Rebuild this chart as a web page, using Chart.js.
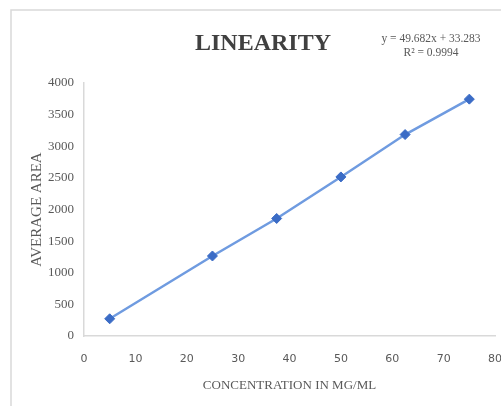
<!DOCTYPE html>
<html>
<head>
<meta charset="utf-8">
<script src="https://cdn.jsdelivr.net/npm/chart.js@4"></script>
<style>
  html, body { margin: 0; padding: 0; background: #fff; }
  #wrap { width: 501px; height: 406px; position: relative; }
</style>
</head>
<body>
<div id="wrap"><canvas id="linChart"></canvas></div>
<script>
// concentration (mg/ml) vs average peak area
const concentrations = [5, 25, 37.5, 50, 62.5, 75];
const averageArea = [272, 1265, 1858, 2515, 3185, 3745];
const xTicks = [0, 10, 20, 30, 40, 50, 60, 70, 80];
const yTicks = [0, 500, 1000, 1500, 2000, 2500, 3000, 3500, 4000];
const titleText = 'LINEARITY';
const equationLines = ['y = 49.682x + 33.283', 'R\u00b2 = 0.9994'];

const axisGrey = '#d9d9d9';
const labelGrey = '#595959';

// frame + title + trendline equation
const decorations = {
    id: 'decorations',
    beforeDraw(chart) {
        const ctx = chart.ctx;
        ctx.save();
        ctx.fillStyle = '#fff';
        ctx.fillRect(0, 0, chart.width, chart.height);
        ctx.strokeStyle = '#d9d9d9';
        ctx.lineWidth = 1.5;
        ctx.beginPath();
        ctx.moveTo(11, chart.height);
        ctx.lineTo(11, 10);
        ctx.lineTo(chart.width, 10);
        ctx.stroke();
        ctx.restore();
    },
    afterDraw(chart) {
        const ctx = chart.ctx;
        ctx.save();
        ctx.textAlign = 'center';
        ctx.textBaseline = 'middle';
        ctx.fillStyle = '#404040';
        ctx.font = 'bold 24px "Liberation Serif"';
        ctx.fillText(titleText, 263, 44);
        ctx.fillStyle = labelGrey;
        ctx.font = '11.5px "Liberation Serif"';
        equationLines.forEach((t, i) => ctx.fillText(t, 431, 39 + i * 14));
        ctx.restore();
    }
};

const ctx = document.getElementById('linChart').getContext('2d');
new Chart(ctx, {
    type: 'scatter',
    data: {
        datasets: [{
            data: concentrations.map((x, i) => ({ x: x, y: averageArea[i] })),
            showLine: true,
            borderColor: '#6f9be0',
            borderWidth: 2.5,
            pointStyle: 'rectRot',
            pointRadius: 5,
            pointBackgroundColor: '#3b6cc6',
            pointBorderColor: '#3b6cc6',
            pointBorderWidth: 1
        }]
    },
    options: {
        responsive: true,
        maintainAspectRatio: false,
        animation: false,
        layout: { padding: { top: 83, right: 4, left: 0, bottom: 0 } },
        plugins: { legend: { display: false }, tooltip: { enabled: false }, title: { display: false } },
        scales: {
            x: {
                type: 'linear',
                min: 0, max: 80,
                afterBuildTicks: (s) => { s.ticks = xTicks.map(v => ({ value: v })); },
                afterFit: (s) => { s.height = 70; s.paddingLeft = 0; s.paddingRight = 0; },
                grid: { display: false, drawTicks: false },
                border: { display: true, color: axisGrey, width: 1.5 },
                ticks: { padding: 17, color: labelGrey, font: { family: 'DejaVu Sans', size: 11 }, maxRotation: 0 },
                title: { display: true, text: 'CONCENTRATION IN MG/ML', color: labelGrey,
                         font: { family: 'Liberation Serif', size: 13 }, padding: { top: 0, bottom: 13 } }
            },
            y: {
                type: 'linear',
                min: 0, max: 4000,
                afterBuildTicks: (s) => { s.ticks = yTicks.map(v => ({ value: v })); },
                afterFit: (s) => { s.width = 84; s.paddingTop = 0; s.paddingBottom = 0; },
                grid: { display: false, drawTicks: false },
                border: { display: true, color: axisGrey, width: 1.5 },
                ticks: { padding: 10, color: labelGrey, font: { family: 'Liberation Serif', size: 13 },
                         callback: (v) => String(v) },
                title: { display: true, text: 'AVERAGE AREA', color: labelGrey,
                         font: { family: 'Liberation Serif', size: 15 }, padding: { top: 28, bottom: 0 } }
            }
        }
    },
    plugins: [decorations]
});
</script>
</body>
</html>
